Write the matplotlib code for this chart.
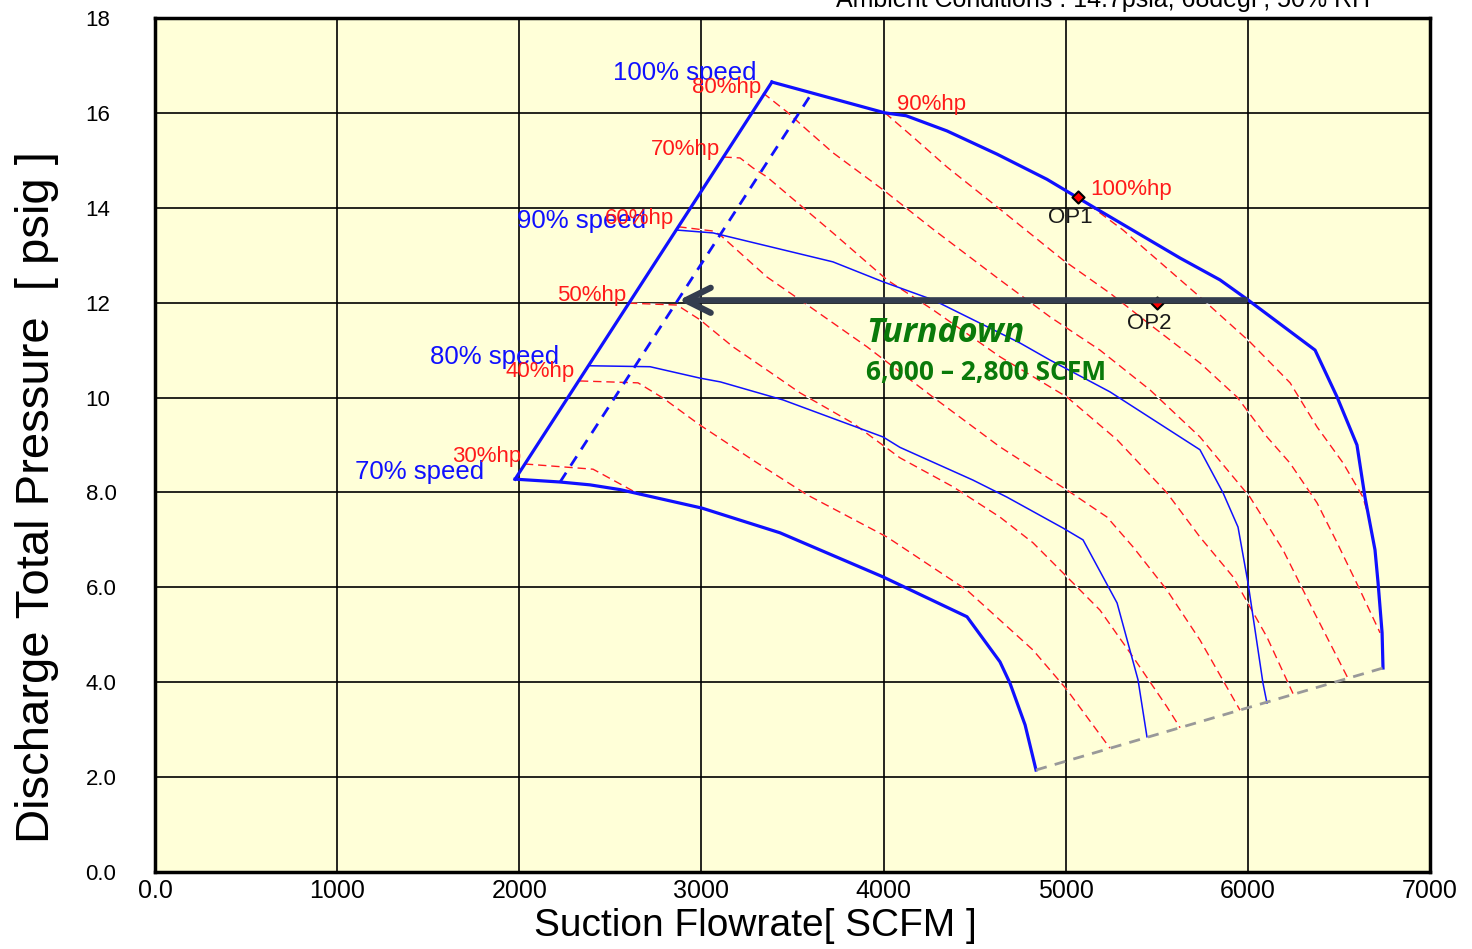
import matplotlib
matplotlib.use("Agg")
import matplotlib.pyplot as plt

plt.rcParams['font.family'] = ['Liberation Sans', 'DejaVu Sans']

# speed lines (SCFM, psig)
speed100_x = [3387, 3607, 4008, 4124, 4348, 4623, 4897, 5150, 5628, 5847, 6000, 6369, 6490, 6599, 6643, 6698, 6715, 6737, 6742]
speed100_y = [16.65, 16.42, 16.00, 15.94, 15.62, 15.13, 14.60, 14.02, 12.94, 12.48, 12.06, 11.00, 10.01, 9.00, 7.90, 6.79, 6.09, 5.04, 4.30]
speed90_x = [2866, 3064, 3722, 3997, 4271, 4749, 4914, 5243, 5737, 5864, 5946, 6001, 6083, 6105]
speed90_y = [13.53, 13.47, 12.86, 12.44, 12.06, 11.15, 10.79, 10.12, 8.90, 7.99, 7.27, 6.09, 3.98, 3.56]
speed80_x = [2388, 2718, 2992, 3104, 3448, 3997, 4090, 4491, 4678, 4985, 5095, 5282, 5397, 5446]
speed80_y = [10.67, 10.65, 10.41, 10.33, 9.95, 9.17, 8.95, 8.26, 7.90, 7.25, 7.00, 5.67, 4.05, 2.85]
speed70_x = [1977, 2224, 2388, 2553, 3003, 3431, 3997, 4458, 4639, 4694, 4777, 4837]
speed70_y = [8.28, 8.22, 8.16, 8.06, 7.67, 7.15, 6.22, 5.38, 4.43, 3.98, 3.10, 2.15]

surge_x = [1977, 3387]
surge_y = [8.28, 16.65]
control_x = [2224, 3607]
control_y = [8.22, 16.42]
choke_x = [4837, 6742]
choke_y = [2.15, 4.30]

# constant horsepower lines
hp_x = {
    30: [2031, 2405, 2663],
    40: [2333, 2652, 2789, 2992, 3283, 3580, 4019, 4458, 4820, 5007, 5243],
    50: [2602, 2866, 2992, 3173, 3360, 3541, 3832, 4090, 4381, 4639, 4820, 5007, 5188, 5370, 5556, 5628],
    60: [2873, 3064, 3102, 3360, 3541, 3909, 4271, 4639, 5007, 5227, 5370, 5556, 5737, 5957],
    70: [3121, 3212, 3283, 3360, 3541, 3722, 4019, 4271, 4639, 5007, 5282, 5556, 5737, 5919, 6105, 6248],
    80: [3338, 3470, 3580, 3722, 3997, 4271, 4639, 4914, 5188, 5463, 5737, 6012, 6193, 6358, 6550],
    90: [4008, 4162, 4348, 4623, 4985, 5243, 5479, 5737, 5941, 6105, 6231, 6380, 6490, 6616, 6726],
    100: [5068, 5150, 5315, 5737, 6012, 6232, 6380, 6523, 6632, 6670],
}
hp_y = {
    30: [8.60, 8.49, 7.95],
    40: [10.35, 10.31, 9.99, 9.42, 8.68, 7.95, 7.06, 5.94, 4.68, 3.84, 2.61],
    50: [11.99, 11.95, 11.64, 11.07, 10.58, 10.10, 9.46, 8.73, 8.12, 7.48, 6.94, 6.22, 5.52, 4.53, 3.48, 3.04],
    60: [13.60, 13.51, 13.43, 12.54, 12.06, 11.07, 10.01, 8.96, 8.05, 7.48, 6.85, 5.94, 4.89, 3.41],
    70: [15.07, 15.05, 14.84, 14.65, 14.06, 13.47, 12.48, 11.85, 10.86, 10.01, 9.11, 7.99, 7.06, 6.22, 4.95, 3.76],
    80: [16.42, 16.02, 15.64, 15.16, 14.38, 13.55, 12.48, 11.70, 11.00, 10.16, 9.17, 7.90, 6.79, 5.52, 4.08],
    90: [16.00, 15.49, 14.86, 14.02, 12.90, 12.20, 11.49, 10.73, 10.01, 9.17, 8.62, 7.78, 6.94, 5.94, 5.04],
    100: [14.23, 14.00, 13.53, 12.12, 11.17, 10.31, 9.38, 8.62, 7.90, 7.40],
}

op_names = ["OP1", "OP2"]
op_x = [5068, 5501]
op_y = [14.23, 12.0]

turndown_from = 6000
turndown_to = 2860
turndown_p = 12.05

speed_labels = ["100% speed", "90% speed", "80% speed", "70% speed"]
speed_label_xy = [(2515, 16.85), (1988, 13.72), (1510, 10.86), (1098, 8.43)]
hp_labels = ["30%hp", "40%hp", "50%hp", "60%hp", "70%hp", "80%hp", "90%hp", "100%hp"]
hp_label_xy = [(1631, 8.75), (1922, 10.54), (2207, 12.16), (2471, 13.77),
               (2723, 15.23), (2948, 16.54), (4074, 16.17), (5133, 14.38)]
op_label_xy = [(4903, 13.79), (5337, 11.57)]

x_ticks = [0, 1000, 2000, 3000, 4000, 5000, 6000, 7000]
x_ticklabels = ["0.0", "1000", "2000", "3000", "4000", "5000", "6000", "7000"]
y_ticks = [0, 2, 4, 6, 8, 10, 12, 14, 16, 18]
y_ticklabels = ["0.0", "2.0", "4.0", "6.0", "8.0", "10", "12", "14", "16", "18"]

BLUE = '#1010ff'
RED = '#ff1a1a'

W, H = 1472, 949
fig = plt.figure(figsize=(W / 100, H / 100), dpi=100)
ax = fig.add_axes([155 / W, 77 / H, 1275 / W, 854 / H])
ax.set_facecolor('#ffffd8')

ax.set_xlim(0, 7000)
ax.set_ylim(0, 18)
ax.set_xticks(x_ticks)
ax.set_xticklabels(x_ticklabels, fontsize=18)
ax.set_yticks(y_ticks)
ax.set_yticklabels(y_ticklabels, fontsize=16, ha='left')
ax.tick_params(axis='x', length=0, pad=5)
ax.tick_params(axis='y', length=0, pad=50)
ax.grid(True, color='black', lw=1.2, zorder=0)
ax.set_axisbelow(True)
for s in ax.spines.values():
    s.set_linewidth(2.5)

# hp lines: white underlay, red dashes on top
for k in hp_x:
    ax.plot(hp_x[k], hp_y[k], color='white', lw=1.0, zorder=2)
    ax.plot(hp_x[k], hp_y[k], color=RED, lw=1.0, dashes=(6, 3.5), zorder=2)

ax.plot(speed90_x, speed90_y, color=BLUE, lw=1.1, zorder=3)
ax.plot(speed80_x, speed80_y, color=BLUE, lw=1.1, zorder=3)
ax.plot(speed100_x, speed100_y, color=BLUE, lw=2.3, zorder=3)
ax.plot(speed70_x, speed70_y, color=BLUE, lw=2.3, zorder=3)
ax.plot(surge_x, surge_y, color=BLUE, lw=2.3, zorder=3)
ax.plot(control_x, control_y, color=BLUE, lw=2.0, dashes=(4, 3), zorder=3)
ax.plot(choke_x, choke_y, color='#999999', lw=2.0, dashes=(4, 3), zorder=3)

ax.scatter(op_x, op_y, marker='D', s=38, color='red', edgecolor='black', lw=1.5, zorder=4)

ax.annotate('', xy=(turndown_to, turndown_p), xytext=(turndown_from, turndown_p),
            arrowprops=dict(arrowstyle='->', lw=4.5, color='#343d4e', mutation_scale=45),
            zorder=5)

for txt, (x, y) in zip(speed_labels, speed_label_xy):
    ax.text(x, y, txt, color=BLUE, fontsize=18.5, va='center', ha='left', zorder=6)
for txt, (x, y) in zip(hp_labels, hp_label_xy):
    ax.text(x, y, txt, color=RED, fontsize=16, va='center', ha='left', zorder=6)
for txt, (x, y) in zip(op_names, op_label_xy):
    ax.text(x, y, txt, color='#1a1a1a', fontsize=16, va='center', ha='left', zorder=6)

ax.text(3903, 11.36, "Turndown", color='#0a7a0a', fontsize=24.5, fontweight='bold',
        fontstyle='italic', family=['Open Sans', 'DejaVu Sans'], va='center', ha='left', zorder=6)
ax.text(3903, 10.52, "6,000 \u2013 2,800 SCFM", color='#0a7a0a', fontsize=19, fontweight='bold',
        family=['Open Sans', 'DejaVu Sans'], va='center', ha='left', zorder=6)

fig.text(755 / W, 1 - 926 / H, "Suction Flowrate[ SCFM ]", fontsize=28, ha='center', va='center')
fig.text(37 / W, 1 - 497 / H, "Discharge Total Pressure  [ psig ]", fontsize=34,
         rotation=90, ha='center', va='center')

fig.text(1370 / W, 1 - 7 / H, "Ambient Conditions : 14.7psia, 68degF, 50% RH",
         fontsize=18, ha='right', va='baseline')

fig.savefig("out.png", dpi=100)
